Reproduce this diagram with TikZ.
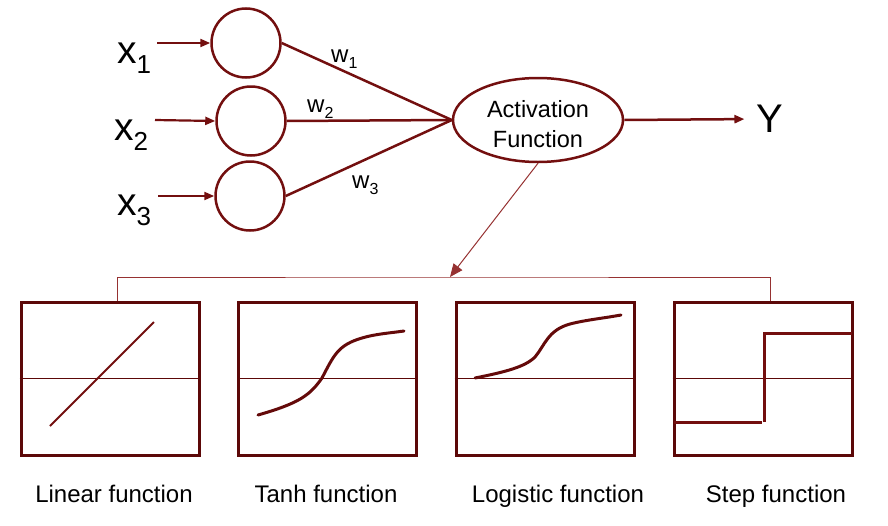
\documentclass[tikz,border=0pt]{standalone}
\usepackage{fontspec}
\setmainfont{Liberation Sans}
\usetikzlibrary{arrows.meta,shapes.geometric}
\definecolor{mar}{RGB}{115,15,15}
\definecolor{boxc}{RGB}{92,8,8}
\definecolor{curvec}{RGB}{100,10,10}
\definecolor{thinc}{RGB}{150,50,50}
\newcommand\xin[1]{{\fontsize{39}{39}\selectfont x\raisebox{-10pt}{\fontsize{26}{26}\selectfont #1}}}
\newcommand\win[1]{{\fontsize{24}{24}\selectfont w\raisebox{-6pt}{\fontsize{16}{16}\selectfont #1}}}
\tikzset{
  neuron/.style={circle,draw=mar,line width=2.5pt,minimum size=69pt,inner sep=0pt},
  inarrow/.style={draw=mar,line width=2.2pt,-{Triangle[length=10pt,width=8pt]}},
  wire/.style={draw=mar,line width=2.5pt},
  fbox/.style={rectangle,draw=boxc,line width=3pt,minimum width=178pt,minimum height=153pt,inner sep=0pt},
  axisline/.style={draw=boxc,line width=1pt},
  curve/.style={draw=curvec,line width=3pt,line cap=round},
  lbl/.style={inner sep=0pt,anchor=base west},
  flabel/.style={inner sep=0pt,anchor=base,font=\fontsize{24}{24}\selectfont}
}
\begin{document}
\begin{tikzpicture}[x=1pt,y=-1pt]
\useasboundingbox (0,0) rectangle (888,525);
% inputs
\node[lbl] (x1) at (117,63) {\xin{1}};
\node[lbl] (x2) at (114,140) {\xin{2}};
\node[lbl] (x3) at (117,215) {\xin{3}};
\node[neuron] (c1) at (246,43) {};
\node[neuron] (c2) at (251,121) {};
\node[neuron] (c3) at (250,196) {};
\coordinate (s1) at (157,43);
\coordinate (s2) at (155,120);
\coordinate (s3) at (158,196);
\draw[inarrow] (s1) -- (c1.west);
\draw[inarrow] (s2) -- (c2.west);
\draw[inarrow] (s3) -- (c3.west);
% activation
\node[ellipse,draw=mar,line width=2.5pt,minimum width=170pt,minimum height=84pt,inner sep=0pt,
  label={[name=aft,inner sep=0pt,align=center,yshift=-4pt,font=\fontsize{23.5}{30}\selectfont]center:Activation\\Function}] (af) at (538,120) {};
\draw[wire] (c1.east) -- (af.west);
\draw[wire] (c2.east) -- (af.west);
\draw[wire] (c3.east) -- (af.west);
\node[lbl] (w1) at (331,62) {\win{1}};
\node[lbl] (w2) at (307,112) {\win{2}};
\node[lbl] (w3) at (352,188) {\win{3}};
% output
\node[inner sep=0pt,font=\fontsize{40}{40}\selectfont] (Y) at (770,119) {Y};
\draw[draw=mar,line width=2.5pt,-{Triangle[length=10pt,width=8pt]},shorten >=12pt] (af.east) -- (Y.west);
% function boxes
\node[fbox] (b1) at (110,378.5) {};
\node[fbox] (b2) at (327.5,378.5) {};
\node[fbox] (b3) at (545,378.5) {};
\node[fbox] (b4) at (763,378.5) {};
\coordinate (br) at (450,277);
\draw[draw=thinc,line width=1pt,-{Triangle[length=13pt,width=11pt]}] (af.south) -- (br);
\draw[draw=thinc,line width=1pt] ([xshift=7pt]b1.north) |- (br) -| ([xshift=7pt]b4.north);
\foreach \b in {b1,b2,b3,b4}{\draw[axisline] (\b.west) -- (\b.east);}
% linear
\draw[draw=mar,line width=1.8pt] (50,426) -- (154,322);
% tanh
\draw[curve] (258,415) .. controls (300,403) and (310,395) .. (322,378)
  .. controls (334,355) and (338,345) .. (362,338) .. controls (375,334) and (390,333) .. (404,331);
% logistic
\draw[curve] (475,378) .. controls (505,372) and (525,367) .. (535,357)
  .. controls (545,345) and (548,330) .. (570,324) .. controls (585,320) and (605,318) .. (621,315);
% step
\draw[draw=mar,line width=3pt] (674,422) -- (762,422);
\draw[draw=mar,line width=3pt] (764,422) -- (764,333) -- (852,333);
% labels
\node[flabel] (l1) at (114,502) {Linear function};
\node[flabel] (l2) at (326,502) {Tanh function};
\node[flabel] (l3) at (558,502) {Logistic function};
\node[flabel] (l4) at (776,502) {Step function};
\end{tikzpicture}
\end{document}
